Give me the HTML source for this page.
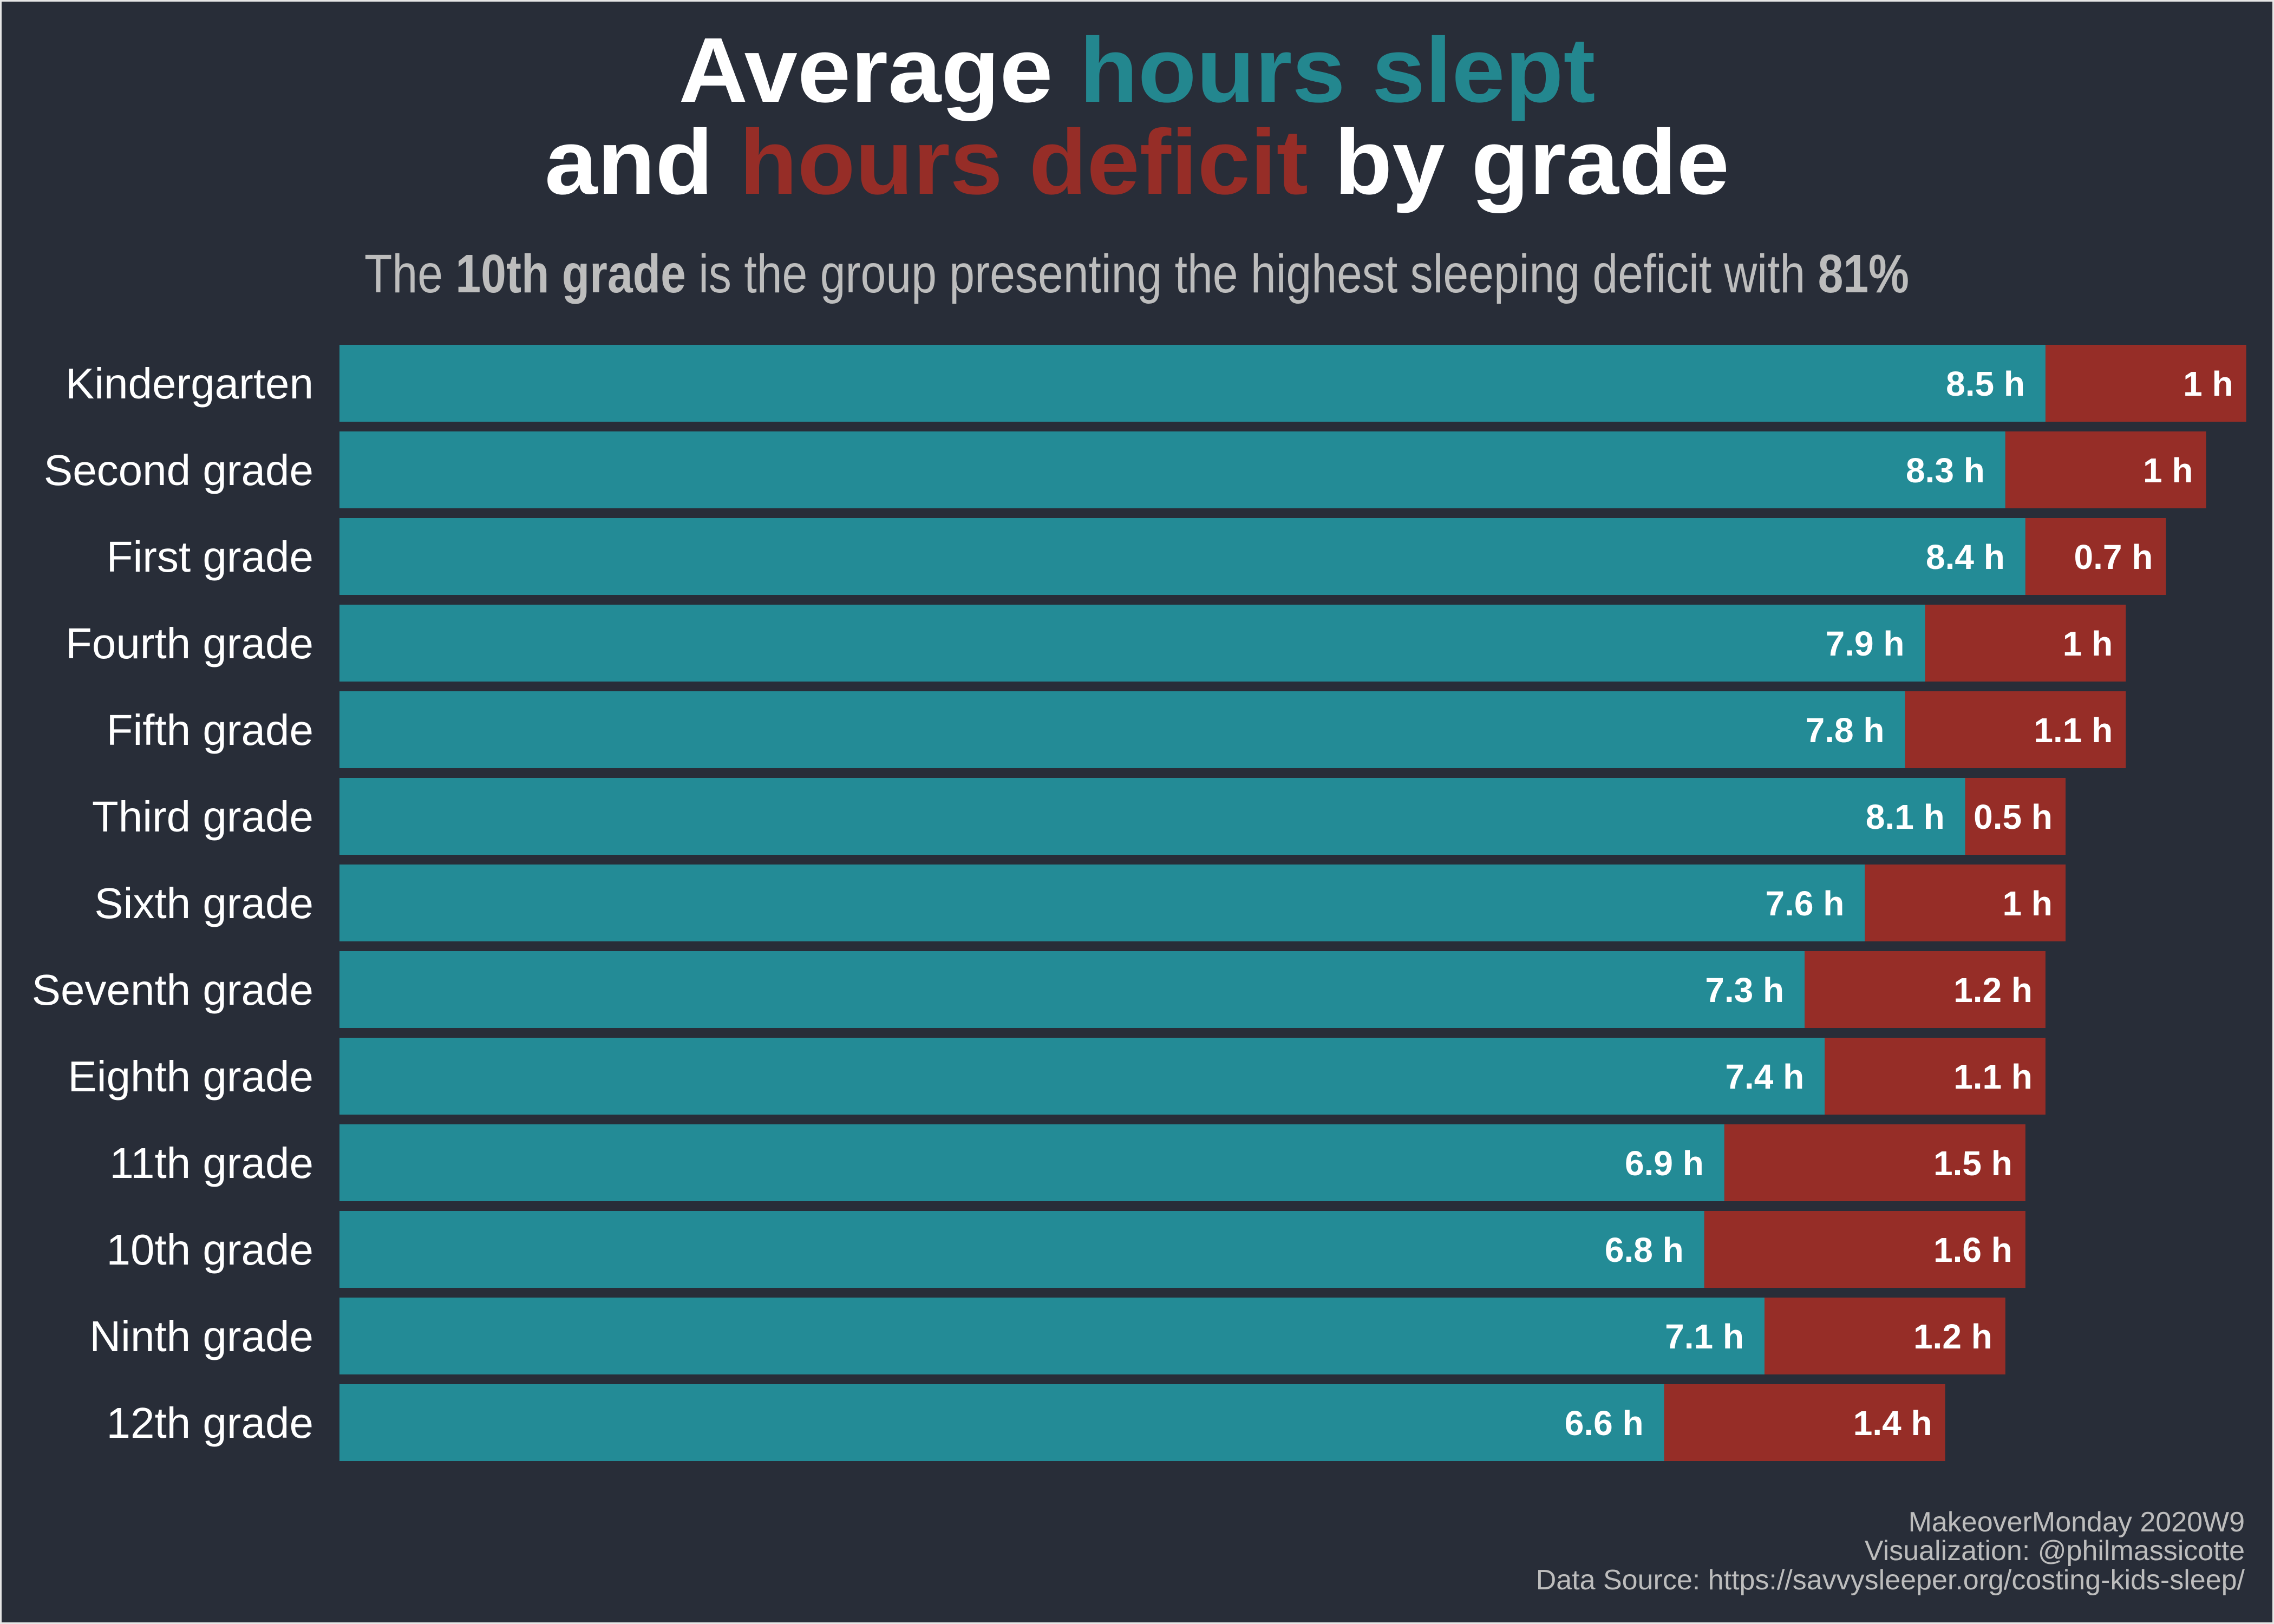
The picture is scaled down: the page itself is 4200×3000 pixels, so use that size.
<!DOCTYPE html>
<html><head><meta charset="utf-8"><style>
html,body{margin:0;padding:0;background:#282d38;}
svg{display:block;font-family:"Liberation Sans",sans-serif;}
</style></head><body>
<svg id="chart" width="4200" height="3000" viewBox="0 0 4200 3000" xmlns="http://www.w3.org/2000/svg">
<rect x="0" y="0" width="4200" height="3000" fill="#282d38" stroke="#e6e6e6" stroke-width="6"/>
<text x="2100" y="188" text-anchor="middle" textLength="1693" lengthAdjust="spacingAndGlyphs" font-size="170" font-weight="bold" fill="#ffffff">Average <tspan fill="#23878f">hours slept</tspan></text>
<text x="2100" y="358" text-anchor="middle" textLength="2188" lengthAdjust="spacingAndGlyphs" font-size="170" font-weight="bold" fill="#ffffff">and <tspan fill="#962d27">hours deficit</tspan> by grade</text>
<text x="673" y="540" textLength="2853" lengthAdjust="spacingAndGlyphs" font-size="100" fill="#bdbdbd">The <tspan font-weight="bold">10th grade</tspan> is the group presenting the highest sleeping deficit with <tspan font-weight="bold">81%</tspan></text>
<g id="bars"></g>
<g font-size="52" fill="#bdbdbd" text-anchor="end">
<text x="4146" y="2829">MakeoverMonday 2020W9</text>
<text x="4146" y="2882">Visualization: @philmassicotte</text>
<text x="4146" y="2936">Data Source: https://savvysleeper.org/costing-kids-sleep/</text>
</g>
</svg>
<script>
const categories = ["Kindergarten","Second grade","First grade","Fourth grade","Fifth grade","Third grade","Sixth grade","Seventh grade","Eighth grade","11th grade","10th grade","Ninth grade","12th grade"];
const slept = [8.5,8.3,8.4,7.9,7.8,8.1,7.6,7.3,7.4,6.9,6.8,7.1,6.6];
const deficit = [1,1,0.7,1,1.1,0.5,1,1.2,1.1,1.5,1.6,1.2,1.4];
const sleptLabels = ["8.5 h","8.3 h","8.4 h","7.9 h","7.8 h","8.1 h","7.6 h","7.3 h","7.4 h","6.9 h","6.8 h","7.1 h","6.6 h"];
const deficitLabels = ["1 h","1 h","0.7 h","1 h","1.1 h","0.5 h","1 h","1.2 h","1.1 h","1.5 h","1.6 h","1.2 h","1.4 h"];

const NS = "http://www.w3.org/2000/svg";
const x0 = 627, pxPerHour = 370.7;
const yTop = 637, pitch = 160, barH = 142;
const xScale = v => x0 + v * pxPerHour;
const yScale = i => yTop + i * pitch;
const g = document.getElementById("bars");
function mk(tag, attrs){const e=document.createElementNS(NS,tag);for(const k in attrs)e.setAttribute(k,attrs[k]);return e;}
categories.forEach((c,i)=>{
  const y = yScale(i);
  const xs = xScale(slept[i]), xe = xScale(slept[i]+deficit[i]);
  const lab = mk("text",{x:579,y:y+barH/2+28,"text-anchor":"end","font-size":80,fill:"#ffffff"});
  
  
  lab.textContent = c; g.appendChild(lab);
  const r1 = mk("rect",{x:x0,y:y,width:xs-x0,height:barH,fill:"#238b96"});
  
  
  g.appendChild(r1);
  const r2 = mk("rect",{x:xs,y:y,width:xe-xs,height:barH,fill:"#962d27"});
  
  
  g.appendChild(r2);
  const t1 = mk("text",{x:xs-38,y:y+barH/2+23,"text-anchor":"end","font-size":64,"font-weight":"bold",fill:"#ffffff"});
  
  
  t1.textContent = sleptLabels[i]; g.appendChild(t1);
  const t2 = mk("text",{x:xe-24,y:y+barH/2+23,"text-anchor":"end","font-size":64,"font-weight":"bold",fill:"#ffffff"});
  
  
  t2.textContent = deficitLabels[i]; g.appendChild(t2);
});
</script>
</body></html>
